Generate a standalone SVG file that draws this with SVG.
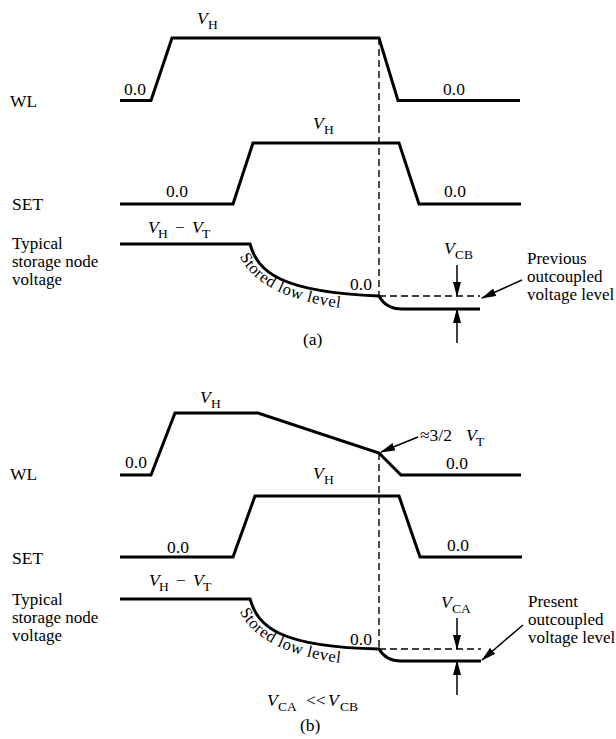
<svg xmlns="http://www.w3.org/2000/svg" width="616" height="739" viewBox="0 0 616 739">
<defs>
<marker id="ah" markerWidth="15" markerHeight="8" refX="14" refY="4" orient="auto" markerUnits="userSpaceOnUse"><path d="M0,0 L15,4 L0,8 z" fill="#000"/></marker>
<path id="ta" d="M237,249 C245,277 279,307 379,311"/>
<path id="tb" d="M237,604 C245,632 279,662 379,666"/>
</defs>
<style>
.w{fill:none;stroke:#000;stroke-width:3;stroke-linejoin:miter}
.d{fill:none;stroke:#000;stroke-width:1.4;stroke-dasharray:7 4}
.a{fill:none;stroke:#000;stroke-width:1.5;marker-end:url(#ah)}
text{font-family:"Liberation Serif","Times New Roman",serif;font-size:17.5px;fill:#000}
.i{font-style:italic}
.s{font-size:13.5px}
.r{font-size:17px}
.l{font-size:16.5px}
</style>
<rect width="616" height="739" fill="#fff"/>

<g id="panel-a">
  <g id="a-wl">
    <path class="w" d="M120,100.5 L151,100.5 L172,38 L379,38 L398,100.5 L520,100.5"/>
    <text x="10" y="107">WL</text>
    <text><tspan class="i" x="197" y="24">V</tspan><tspan class="s" x="208" y="29">H</tspan></text>
    <text x="124" y="95">0.0</text>
    <text x="443" y="95">0.0</text>
  </g>
  <g id="a-set">
    <path class="w" d="M120,204 L233,204 L253,143 L399,143 L419,204 L521,204"/>
    <text x="12" y="210">SET</text>
    <text><tspan class="i" x="313" y="129">V</tspan><tspan class="s" x="324" y="134">H</tspan></text>
    <text x="166" y="197">0.0</text>
    <text x="444" y="197">0.0</text>
  </g>
  <g id="a-node">
    <path class="w" d="M120,244 L250,244 C258,272 280,292 379,296 Q386,309 402,309 L480,309"/>
    <text><tspan class="i" x="148" y="233">V</tspan><tspan class="s" x="158" y="238">H</tspan><tspan x="175" y="233">−</tspan><tspan class="i" x="192" y="233">V</tspan><tspan class="s" x="202" y="238">T</tspan></text>
    <text class="r" x="12" y="249">Typical</text>
    <text class="r" x="12" y="267">storage node</text>
    <text class="r" x="12" y="285">voltage</text>
    <text class="l"><textPath href="#ta" startOffset="8" letter-spacing="0.6">Stored low level</textPath></text>
    <text x="350" y="290">0.0</text>
    <text><tspan class="i" x="444" y="254">V</tspan><tspan class="s" x="455" y="259">CB</tspan></text>
    <text class="r" x="527" y="264">Previous</text>
    <text class="r" x="527" y="282">outcoupled</text>
    <text class="r" x="527" y="300">voltage level</text>
  </g>
  <text id="a-caption" x="303" y="345">(a)</text>
</g>

<g id="panel-b">
  <g id="b-wl">
    <path class="w" d="M120,475 L151,475 L175,413 L258,413 L379,453 L401,475 L521,475"/>
    <text x="10" y="480">WL</text>
    <text><tspan class="i" x="200" y="403">V</tspan><tspan class="s" x="211" y="408">H</tspan></text>
    <text x="125" y="468">0.0</text>
    <text x="446" y="469">0.0</text>
    <text><tspan x="420" y="441">≈3/2</tspan><tspan class="i" x="466" y="441">V</tspan><tspan class="s" x="476" y="446">T</tspan></text>
  </g>
  <g id="b-set">
    <path class="w" d="M120,557 L233,557 L255,496 L399,496 L420,557 L522,557"/>
    <text x="12" y="564">SET</text>
    <text><tspan class="i" x="313" y="479">V</tspan><tspan class="s" x="324" y="484">H</tspan></text>
    <text x="167" y="553">0.0</text>
    <text x="447" y="551">0.0</text>
  </g>
  <g id="b-node">
    <path class="w" d="M120,599 L250,599 C258,627 280,647 379,649 Q386,661 401,661 L481,661"/>
    <text><tspan class="i" x="149" y="586">V</tspan><tspan class="s" x="159" y="591">H</tspan><tspan x="176" y="586">−</tspan><tspan class="i" x="193" y="586">V</tspan><tspan class="s" x="203" y="591">T</tspan></text>
    <text class="r" x="12" y="605">Typical</text>
    <text class="r" x="12" y="623">storage node</text>
    <text class="r" x="12" y="641">voltage</text>
    <text class="l"><textPath href="#tb" startOffset="8" letter-spacing="0.6">Stored low level</textPath></text>
    <text x="350" y="645">0.0</text>
    <text><tspan class="i" x="441" y="608">V</tspan><tspan class="s" x="452" y="613">CA</tspan></text>
    <text class="r" x="528" y="607">Present</text>
    <text class="r" x="528" y="625">outcoupled</text>
    <text class="r" x="528" y="643">voltage level</text>
  </g>
  <text id="b-relation"><tspan class="i" x="267" y="706">V</tspan><tspan class="s" x="278" y="711">CA</tspan><tspan x="306" y="706">&lt;&lt;</tspan><tspan class="i" x="328" y="706">V</tspan><tspan class="s" x="340" y="711">CB</tspan></text>
  <text id="b-caption" x="300" y="731">(b)</text>
</g>

<g id="connectors">
  <path class="d" d="M379,38 L379,296 M379,296 L480,296"/>
  <path class="a" d="M457,265 L457,296"/>
  <path class="a" d="M457,343 L457,309"/>
  <path class="a" d="M522,280 L482,298"/>
  <path class="d" d="M379,453 L379,649 M379,649 L481,649"/>
  <path class="a" d="M418,437 L381,452"/>
  <path class="a" d="M457,618 L457,649"/>
  <path class="a" d="M457,695 L457,661"/>
  <path class="a" d="M523,625 L482,660"/>
</g>
</svg>
